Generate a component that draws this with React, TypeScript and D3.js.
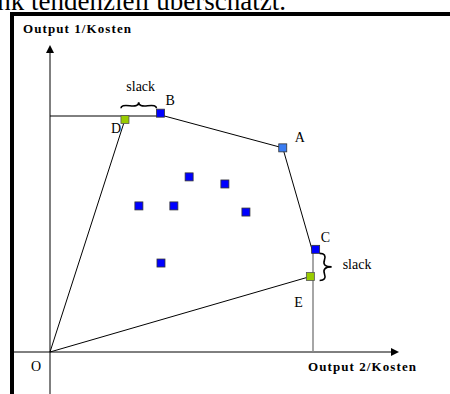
import React from "react";
import * as d3 from "d3";

// DEA-style data: x = Output 2/Kosten, y = Output 1/Kosten
const frontierNames = ["B", "A", "C"];
const frontierX = [4.2, 8.85, 10.1];
const frontierY = [10.12, 8.65, 4.35];
const frontierFill = ["#0000ff", "#3a7cf2", "#0000ff"];
// efficient frontier polyline (horizontal from the y-axis, through B, A, C)
const frontierLineX = [0, 4.35, 8.85, 10.0];
const frontierLineY = [10, 10, 8.65, 4.2];
const projX = [2.85, 9.9];
const projY = [9.85, 3.2];
const projNames = ["D", "E"];
const innerX = [5.29, 6.65, 3.38, 4.71, 7.45, 4.22];
const innerY = [7.42, 7.12, 6.19, 6.19, 5.93, 3.77];
const frontierEndX = 10; // vertical segment down to x-axis

const W = 450;
const H = 394;
const serif = "'Liberation Serif', 'Times New Roman', serif";

function brace(x1: number, y1: number, x2: number, y2: number, w: number, q = 0.6) {
  let dx = x1 - x2;
  let dy = y1 - y2;
  const len = Math.sqrt(dx * dx + dy * dy);
  dx /= len;
  dy /= len;
  const qx1 = x1 + q * w * dy, qy1 = y1 - q * w * dx;
  const qx2 = x1 - 0.25 * len * dx + (1 - q) * w * dy, qy2 = y1 - 0.25 * len * dy - (1 - q) * w * dx;
  const tx1 = x1 - 0.5 * len * dx + w * dy, ty1 = y1 - 0.5 * len * dy - w * dx;
  const qx3 = x2 + q * w * dy, qy3 = y2 - q * w * dx;
  const qx4 = x1 - 0.75 * len * dx + (1 - q) * w * dy, qy4 = y1 - 0.75 * len * dy - (1 - q) * w * dx;
  return `M${x1} ${y1} Q${qx1} ${qy1} ${qx2} ${qy2} T${tx1} ${ty1} M${x2} ${y2} Q${qx3} ${qy3} ${qx4} ${qy4} T${tx1} ${ty1}`;
}

export default function App() {
  const x = d3.scaleLinear().domain([0, 10]).range([50, 313]);
  const y = d3.scaleLinear().domain([0, 10]).range([352, 116]);
  const ox = x(0), oy = y(0);
  const line = d3.line<[number, number]>().x((d) => x(d[0])).y((d) => y(d[1]));
  const frontier: [number, number][] = frontierLineX.map((v, i) => [v, frontierLineY[i]] as [number, number]);
  const sq = 8;

  const bx = x(frontierX[0]), by = y(frontierY[0]);
  const dx = x(projX[0]);
  const cx = x(frontierX[2]), cy = y(frontierY[2]);
  const ey = y(projY[1]);

  return (
    <svg width={W} height={H} style={{ position: "absolute", left: 0, top: 0, background: "#fff" }}>
      <text x={286} y={10} textAnchor="end" fontFamily={serif} fontSize={27}>nk tendenziell überschätzt.</text>
      {/* frame */}
      <line x1={12} y1={14} x2={W + 5} y2={14} stroke="#000" strokeWidth={4} />
      <line x1={12} y1={12} x2={12} y2={H + 5} stroke="#000" strokeWidth={4} />

      {/* axes */}
      <line x1={ox} y1={H} x2={ox} y2={52} stroke="#000" strokeWidth={1} />
      <path d={`M${ox} 45 L${ox - 4} 53 L${ox + 4} 53 Z`} fill="#000" />
      <line x1={14} y1={oy} x2={391} y2={oy} stroke="#000" strokeWidth={1} />
      <path d={`M399 ${oy} L391 ${oy - 4} L391 ${oy + 4} Z`} fill="#000" />

      {/* frontier */}
      <path d={line(frontier) || ""} fill="none" stroke="#000" strokeWidth={1} />
      <line x1={x(frontierEndX)} y1={cy} x2={x(frontierEndX)} y2={oy} stroke="#888" strokeWidth={1.5} />
      {/* rays */}
      {projX.map((v, i) => (
        <line key={i} x1={ox} y1={oy} x2={x(v)} y2={y(projY[i])} stroke="#000" strokeWidth={1} />
      ))}

      {/* inner points */}
      {innerX.map((v, i) => (
        <rect key={i} x={x(v) - sq / 2} y={y(innerY[i]) - sq / 2} width={sq} height={sq} fill="#0000ff" stroke="#333" strokeWidth={0.8} />
      ))}
      {frontierX.map((v, i) => (
        <rect key={frontierNames[i]} x={x(v) - sq / 2} y={y(frontierY[i]) - sq / 2} width={sq} height={sq} fill={frontierFill[i]} stroke="#333" strokeWidth={0.8} />
      ))}
      {projX.map((v, i) => (
        <rect key={projNames[i]} x={x(v) - sq / 2} y={y(projY[i]) - sq / 2} width={sq} height={sq} fill="#99cc00" stroke="#555" strokeWidth={0.8} />
      ))}

      {/* braces */}
      <path d={brace(bx - 4, by - 5, dx - 4, by - 5, 6)} fill="none" stroke="#000" strokeWidth={1.6} />
      <path d={brace(cx + 4, ey + 4, cx + 4, cy + 4, 12)} fill="none" stroke="#000" strokeWidth={1.6} />

      {/* labels */}
      <g fontFamily={serif} fontSize={14} fill="#000">
        <text x={(bx + dx) / 2 - 2} y={91} textAnchor="middle">slack</text>
        <text x={bx + 5} y={105}>B</text>
        <text x={dx - 14} y={133}>D</text>
        <text x={x(frontierX[1]) + 12} y={142}>A</text>
        <text x={cx + 5} y={242}>C</text>
        <text x={cx + 27} y={269}>slack</text>
        <text x={x(projX[1]) - 16} y={307}>E</text>
        <text x={31} y={371}>O</text>
      </g>
      <g fontFamily={serif} fontSize={13} fontWeight="bold" fill="#000">
        <text x={23} y={33} textLength={108} lengthAdjust="spacing">Output 1/Kosten</text>
        <text x={308} y={371} textLength={108} lengthAdjust="spacing">Output 2/Kosten</text>
      </g>
    </svg>
  );
}
